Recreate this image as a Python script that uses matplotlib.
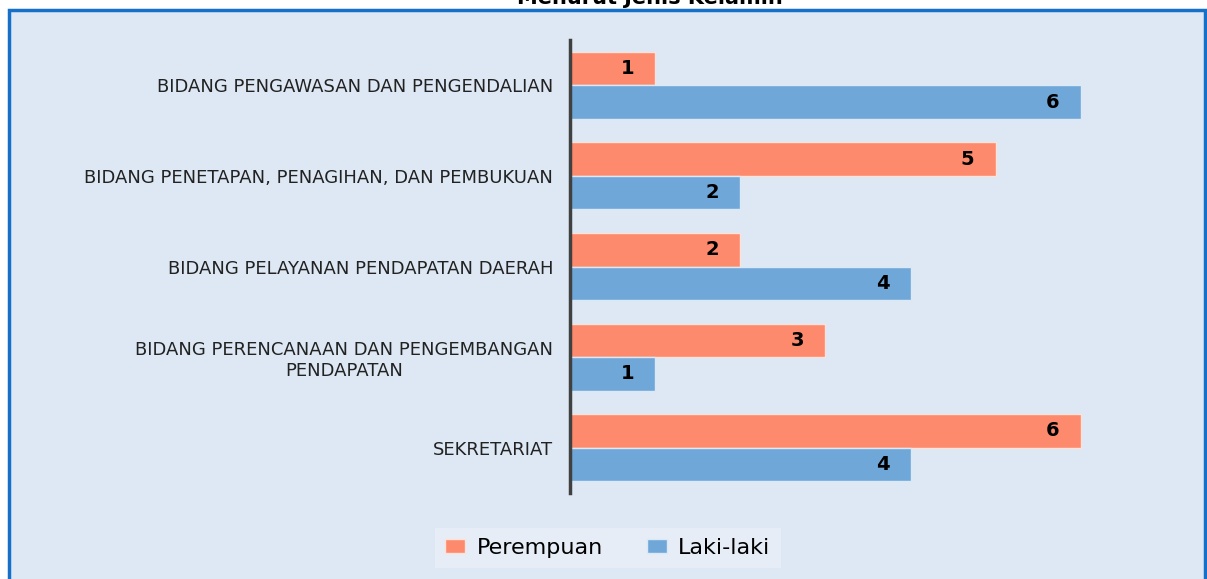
import matplotlib.pyplot as plt
from matplotlib.patches import Rectangle
import numpy as np

# data
bidang = [
    "BIDANG PENGAWASAN DAN PENGENDALIAN",
    "BIDANG PENETAPAN, PENAGIHAN, DAN PEMBUKUAN",
    "BIDANG PELAYANAN PENDAPATAN DAERAH",
    "BIDANG PERENCANAAN DAN PENGEMBANGAN\nPENDAPATAN",
    "SEKRETARIAT",
]
perempuan = [1, 5, 2, 3, 6]
laki_laki = [6, 2, 4, 1, 4]

c_per = "#fd8a6c"
c_lak = "#6fa7d9"
bg = "#dde8f4"

fig = plt.figure(figsize=(12.07, 5.79), dpi=100)
fig.patch.set_facecolor("white")

# cadre bleu
fig.patches.append(Rectangle((9 / 1207, -0.05), 1196 / 1207, 1.05 - 10 / 579,
                             transform=fig.transFigure, facecolor=bg,
                             edgecolor="#1670c8", linewidth=2.5, zorder=-5))

fig.text(650 / 1207, 1 - 4 / 579, "Menurut Jenis Kelamin", ha="center",
         va="baseline", fontsize=15, fontweight="bold", color="black")

ax = fig.add_axes([570 / 1207, 86 / 579, 613 / 1207, 453 / 579])
ax.set_facecolor("none")
ax.set_zorder(2)

y = np.arange(len(bidang))
h = 0.37
b1 = ax.barh(y - h / 2, perempuan, height=h, color=c_per, edgecolor="#fbe3dc",
             linewidth=1, label="Perempuan")
b2 = ax.barh(y + h / 2, laki_laki, height=h, color=c_lak, edgecolor="#dbe8f5",
             linewidth=1, label="Laki-laki")

for bars in (b1, b2):
    for r in bars:
        ax.annotate(str(int(r.get_width())),
                    (r.get_width(), r.get_y() + r.get_height() / 2),
                    xytext=(-28, 0), textcoords="offset pixels",
                    ha="center", va="center", fontsize=14, fontweight="bold")

ax.set_xlim(0, 7.2)
ax.set_ylim(len(bidang) - 0.5, -0.5)
ax.set_yticks(y)
ax.set_yticklabels(bidang, fontsize=13, color="#222222")
for t in ax.get_yticklabels():
    t.set_multialignment("center")
ax.tick_params(axis="y", length=0, pad=12)
ax.set_xticks([])
for s in ["top", "right", "bottom"]:
    ax.spines[s].set_visible(False)
ax.spines["left"].set_color("#404040")
ax.spines["left"].set_linewidth(2.5)

leg = ax.legend(loc="center", bbox_to_anchor=(608 / 1207, 1 - 548 / 579),
                bbox_transform=fig.transFigure, ncol=2, fontsize=16,
                frameon=True, fancybox=False, handlelength=0.9,
                handleheight=0.55, handletextpad=0.5, columnspacing=2.0,
                borderpad=0.45, borderaxespad=0)
leg.get_frame().set_facecolor("#e6edf6")
leg.get_frame().set_edgecolor("none")
leg.get_frame().set_alpha(1)

fig.savefig("out.png", dpi=100)
